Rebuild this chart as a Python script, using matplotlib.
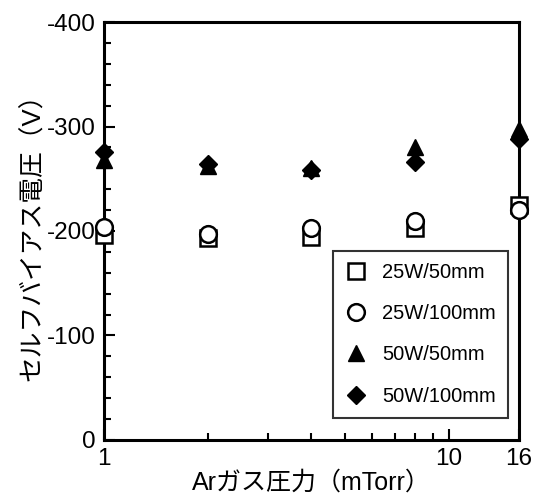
import matplotlib.pyplot as plt
from matplotlib.ticker import FixedLocator, MultipleLocator, NullFormatter, LogLocator

plt.rcParams['font.family'] = ['Liberation Sans', 'Noto Sans CJK JP', 'DejaVu Sans']
plt.rcParams['axes.unicode_minus'] = False

pressure = [1, 2, 4, 8, 16]
v_25w_50 = [-196, -193, -194, -203, -225]
v_25w_100 = [-204, -197, -203, -210, -220]
v_50w_50 = [-268, -262, -260, -280, -298]
v_50w_100 = [-276, -264, -258, -266, -288]

fig = plt.figure(figsize=(5.36, 5.01), dpi=100)
ax = fig.add_axes([0.194, 0.122, 0.774, 0.834])

kw = dict(ls='none', clip_on=False, zorder=5)
ax.plot(pressure, v_25w_50, marker='s', ms=11, mfc='white', mec='black', mew=1.8, label='25W/50mm', **kw)
ax.plot(pressure, v_25w_100, marker='o', ms=12, mfc='white', mec='black', mew=1.8, label='25W/100mm', **kw)
ax.plot(pressure, v_50w_50, marker='^', ms=12, color='black', label='50W/50mm', **kw)
ax.plot(pressure, v_50w_100, marker='D', ms=9, color='black', label='50W/100mm', **kw)

ax.set_xscale('log')
ax.set_xlim(1, 16)
ax.xaxis.set_major_locator(FixedLocator([1, 10, 16]))
ax.xaxis.set_major_formatter(plt.FixedFormatter(['1', '10', '16']))
ax.xaxis.set_minor_locator(LogLocator(base=10, subs=range(2, 10)))
ax.xaxis.set_minor_formatter(NullFormatter())

ax.set_ylim(0, -400)
ax.yaxis.set_major_locator(MultipleLocator(100))
ax.yaxis.set_minor_locator(MultipleLocator(20))

ax.tick_params(which='both', direction='in', top=False, right=False, width=1.5)
ax.tick_params(which='major', length=8, labelsize=17.5, pad=6)
ax.tick_params(which='minor', length=5)
for s in ax.spines.values():
    s.set_linewidth(2.2)

ax.set_xlabel('Arガス圧力（mTorr）', fontsize=18, labelpad=0)
ax.set_ylabel('セルフバイアス電圧（V）', fontsize=18.5, labelpad=1)

leg = ax.legend(loc='lower right', bbox_to_anchor=(0.973, 0.053), borderaxespad=0,
                fancybox=False, edgecolor='black', fontsize=14.5, labelspacing=1.1,
                handletextpad=0.8, borderpad=0.6, handlelength=1.0)
leg.get_frame().set_linewidth(1.5)

plt.savefig('out.png')
